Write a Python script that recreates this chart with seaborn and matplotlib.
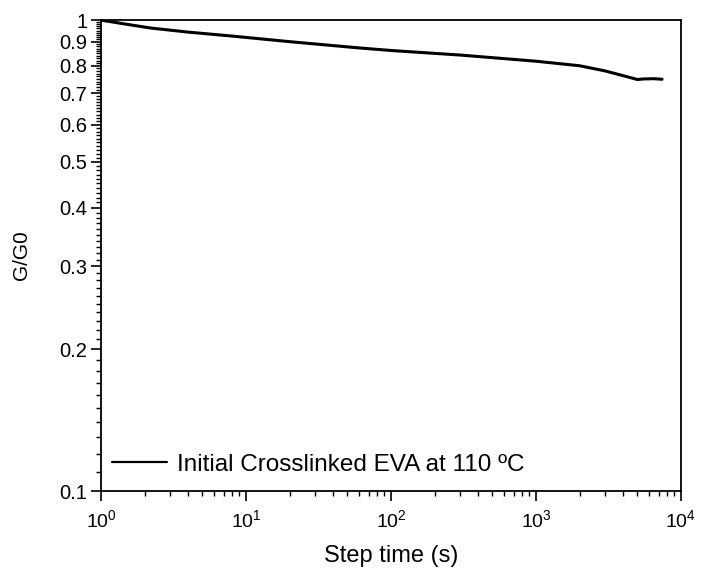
import numpy as np
import pandas as pd
import matplotlib
matplotlib.use("Agg")
import matplotlib.pyplot as plt
import matplotlib.ticker as mticker
import seaborn as sns

step_time = [1, 1.5, 2.2, 4, 8, 20, 60, 100, 300, 1000, 2000, 3000, 4000, 5000, 5500, 6500, 7400]
g_ratio = [1.0, 0.98, 0.962, 0.943, 0.925, 0.9, 0.873, 0.862, 0.843, 0.818, 0.8, 0.78, 0.762, 0.748, 0.75, 0.751, 0.749]
series_label = "Initial Crosslinked EVA at 110 ºC"
y_ticks = [0.1, 0.2, 0.3, 0.4, 0.5, 0.6, 0.7, 0.8, 0.9, 1.0]
y_ticklabels = ["0.1", "0.2", "0.3", "0.4", "0.5", "0.6", "0.7", "0.8", "0.9", "1"]

sns.set_theme(style="ticks")
plt.rcParams['font.family'] = ['Liberation Sans', 'DejaVu Sans']
plt.rcParams['mathtext.fontset'] = 'custom'
plt.rcParams['mathtext.rm'] = 'Liberation Sans'
plt.rcParams['mathtext.it'] = 'Liberation Sans'
plt.rcParams['text.color'] = 'black'
plt.rcParams['axes.labelcolor'] = 'black'
plt.rcParams['xtick.color'] = 'black'
plt.rcParams['ytick.color'] = 'black'

df = pd.DataFrame({"t": step_time, "g": g_ratio, "series": series_label})

fig = plt.figure(figsize=(7.09, 5.75), dpi=100)
ax = fig.add_axes([0.1425, 0.146, 0.818, 0.819])
sns.lineplot(data=df, x="t", y="g", hue="series", palette=["black"], linewidth=2.2, ax=ax)
ax.set_xscale("log")
ax.set_yscale("log")
ax.set_xlim(1, 1e4)
ax.set_ylim(0.1, 1.0)

ax.yaxis.set_major_locator(mticker.FixedLocator(y_ticks))
ax.yaxis.set_major_formatter(mticker.FixedFormatter(y_ticklabels))
ax.yaxis.set_minor_locator(mticker.FixedLocator(np.arange(0.11, 1.0, 0.01)))
ax.yaxis.set_minor_formatter(mticker.NullFormatter())
ax.xaxis.set_major_locator(mticker.LogLocator(base=10, numticks=10))
ax.xaxis.set_minor_locator(mticker.LogLocator(base=10, subs=np.arange(2, 10), numticks=20))
ax.xaxis.set_minor_formatter(mticker.NullFormatter())

ax.tick_params(axis="both", which="major", direction="out", length=7, width=1.2,
               colors="black", pad=3)
ax.tick_params(axis="y", which="major", labelsize=14.5)
ax.tick_params(axis="x", which="major", pad=6, labelsize=14)
ax.tick_params(axis="both", which="minor", direction="out", length=3.5, width=1.0)
ax.tick_params(top=False, right=False, which="both")
for s in ax.spines.values():
    s.set_linewidth(1.3)
    s.set_color("black")

ax.set_xlabel("Step time (s)", fontsize=17, labelpad=10, color="black")
ax.set_ylabel("G/G0", fontsize=15, labelpad=20, color="black")

leg = ax.legend(loc="lower left", frameon=False, fontsize=17.5, handlelength=2.25, handletextpad=0.4,
                borderaxespad=0.3, bbox_to_anchor=(-0.01, -0.004))
for line in leg.get_lines():
    line.set_linewidth(1.6)
for t in leg.get_texts():
    t.set_color("black")

fig.savefig("out.png", dpi=100)
